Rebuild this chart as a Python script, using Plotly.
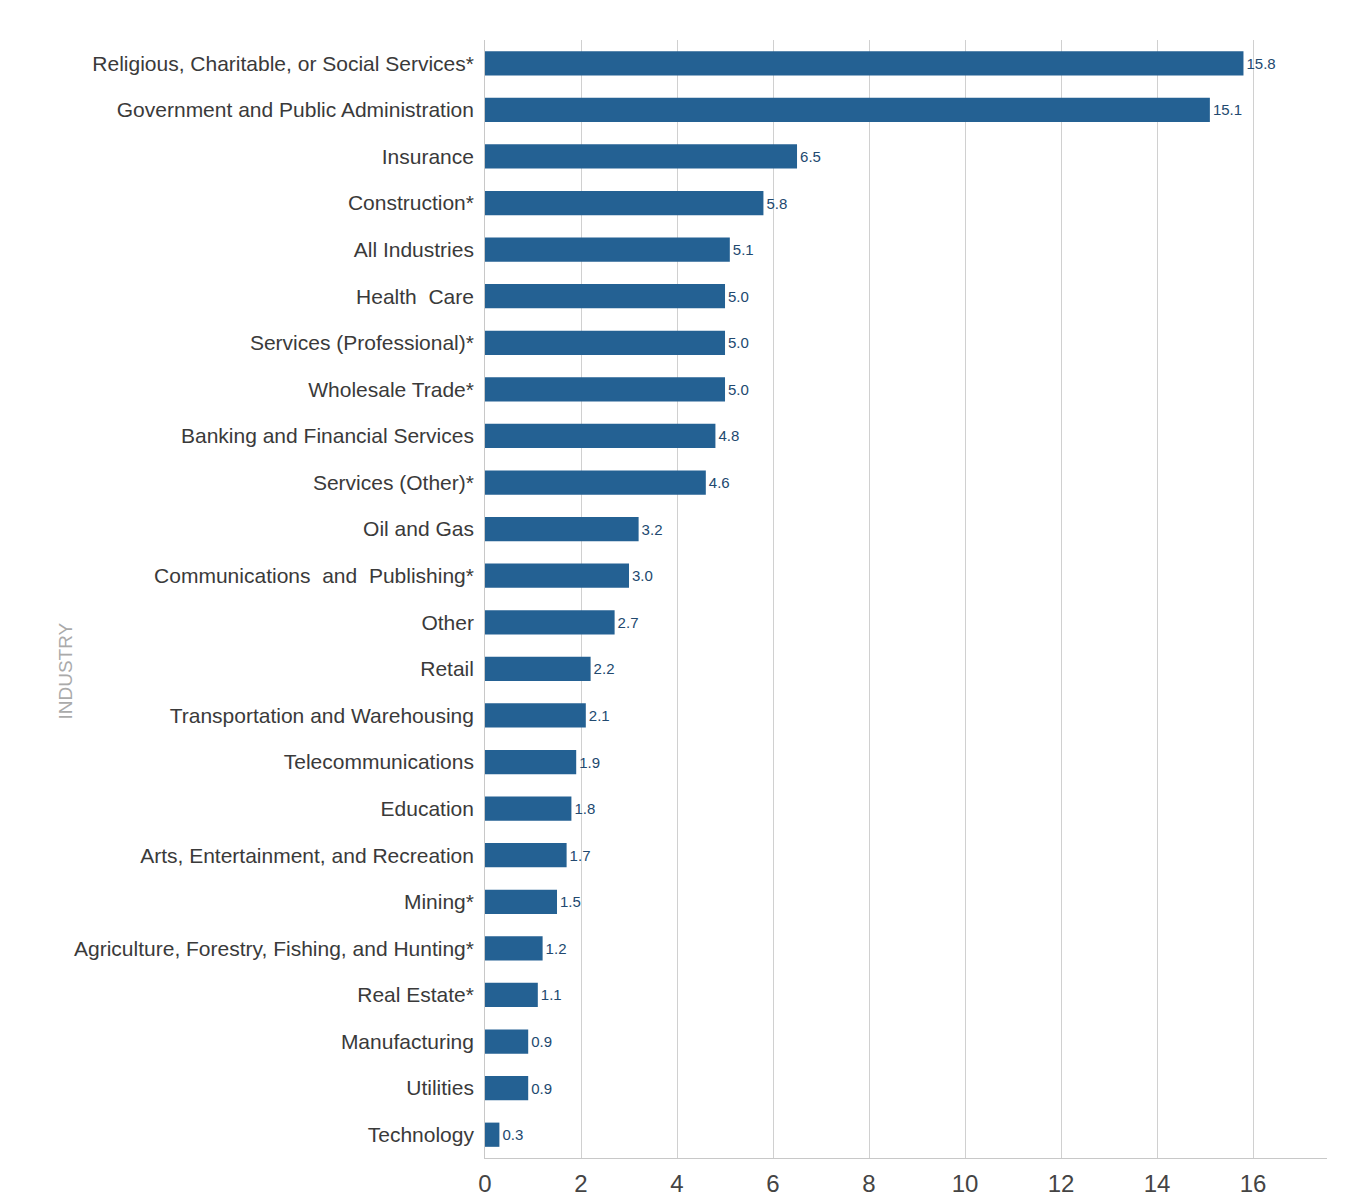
import plotly.graph_objects as go

categories = [
    "Religious, Charitable, or Social Services*",
    "Government and Public Administration",
    "Insurance",
    "Construction*",
    "All Industries",
    "Health  Care",
    "Services (Professional)*",
    "Wholesale Trade*",
    "Banking and Financial Services",
    "Services (Other)*",
    "Oil and Gas",
    "Communications  and  Publishing*",
    "Other",
    "Retail",
    "Transportation and Warehousing",
    "Telecommunications",
    "Education",
    "Arts, Entertainment, and Recreation",
    "Mining*",
    "Agriculture, Forestry, Fishing, and Hunting*",
    "Real Estate*",
    "Manufacturing",
    "Utilities",
    "Technology",
]
values = [15.8, 15.1, 6.5, 5.8, 5.1, 5.0, 5.0, 5.0, 4.8, 4.6, 3.2, 3.0, 2.7, 2.2,
          2.1, 1.9, 1.8, 1.7, 1.5, 1.2, 1.1, 0.9, 0.9, 0.3]
x_ticks = [0, 2, 4, 6, 8, 10, 12, 14, 16]

font_main = "Liberation Sans Narrow, Arial Narrow, Liberation Sans, Arial, sans-serif"

fig = go.Figure(go.Bar(
    x=values,
    y=categories,
    orientation="h",
    marker=dict(color="#246193", line=dict(width=0)),
    width=0.52,
    text=[f"{v:.1f}" for v in values],
    textposition="outside",
    textfont=dict(family=font_main, size=15, color="#22496f"),
    cliponaxis=False,
))

fig.update_layout(
    width=1349, height=1200,
    paper_bgcolor="white", plot_bgcolor="white",
    margin=dict(l=477, r=30, t=32, b=50),
    showlegend=False,
    font=dict(family=font_main),
)
fig.update_xaxes(
    range=[0, 17.54],
    tickvals=x_ticks,
    automargin=False,
    showgrid=True, gridcolor="#d0d0d0", gridwidth=1,
    showline=True, linecolor="#c8c8c8", linewidth=1,
    zeroline=False,
    ticks="outside", ticklen=4, tickcolor="rgba(0,0,0,0)",
    tickfont=dict(family="Liberation Sans, Arial, sans-serif", size=24, color="#444444"),
)
fig.update_yaxes(
    categoryorder="array", categoryarray=categories[::-1],
    range=[-0.5, 23.5],
    automargin=False,
    showline=True, linecolor="#c8c8c8", linewidth=1,
    showgrid=False, ticks="", ticklen=0,
    ticksuffix=" ",
    tickfont=dict(family=font_main, size=21, color="#3a3a3a"),
)
fig.add_annotation(
    x=0, y=0.4356, xref="paper", yref="paper", xshift=-432,
    text="INDUSTRY", textangle=-90, showarrow=False,
    font=dict(family="Liberation Sans, Arial, sans-serif", size=19, color="#aaaaaa"),
)
fig.write_html("out.html")
